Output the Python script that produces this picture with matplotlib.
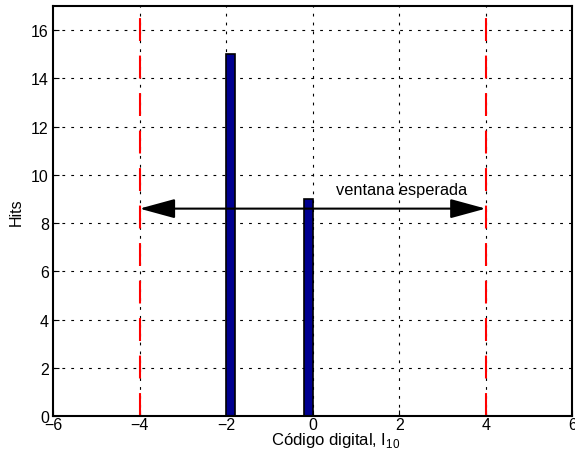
import matplotlib
matplotlib.use("Agg")
import matplotlib.pyplot as plt

plt.rcParams['font.family'] = ['Liberation Sans', 'DejaVu Sans']
plt.rcParams['mathtext.fontset'] = 'custom'
plt.rcParams['mathtext.rm'] = 'Liberation Sans'

# data
bin_left = [-2.0, -0.2]
bin_width = 0.2
hits = [15, 9]
window = [-4, 4]
arrow_y = 8.6
xticks = [-6, -4, -2, 0, 2, 4, 6]
yticks = [0, 2, 4, 6, 8, 10, 12, 14, 16]

fig = plt.figure(figsize=(5.75, 4.52), dpi=100)
ax = fig.add_axes([0.0922, 0.0774, 0.903, 0.907])

ax.set_xlim(-6, 6)
ax.set_ylim(0, 17)
ax.set_xticks(xticks)
ax.set_yticks(yticks)
ax.set_xticklabels(['\u2212%d' % abs(t) if t < 0 else '%d' % t for t in xticks])

# grid
for t in xticks[1:-1]:
    ax.axvline(t, color='black', lw=0.8, dashes=(2.5, 5.5), zorder=0)
for t in yticks[1:]:
    ax.axhline(t, color='black', lw=0.8, dashes=(2.5, 5.5), zorder=0)

ax.bar(bin_left, hits, width=bin_width, align='edge', color='#00008f',
       edgecolor='black', linewidth=1.2, zorder=2)

for w in window:
    ax.axvline(w, color='red', lw=1.5, dashes=(11, 7), zorder=3)

ax.annotate('', xy=(window[0], arrow_y), xytext=(window[1], arrow_y),
            arrowprops=dict(arrowstyle='<|-|>,head_length=2.2,head_width=0.6',
                            mutation_scale=10, color='black', lw=1.5,
                            shrinkA=0, shrinkB=0), zorder=4)
ax.text(0.55, 9.1, 'ventana esperada', fontsize=11.8, ha='left', va='bottom')

ax.tick_params(direction='in', length=4, width=0.8, labelsize=11.5, pad=3)
ax.tick_params(axis='x', pad=1)
for s in ax.spines.values():
    s.set_linewidth(1.5)
    s.set_zorder(5)

ax.set_xlabel('Código digital, I$_{10}$', fontsize=12)
ax.xaxis.set_label_coords(0.545, -0.033)
ax.set_ylabel('Hits', fontsize=11.5)
ax.yaxis.set_label_coords(-0.056, 0.5)

fig.savefig('out.png', dpi=100)
